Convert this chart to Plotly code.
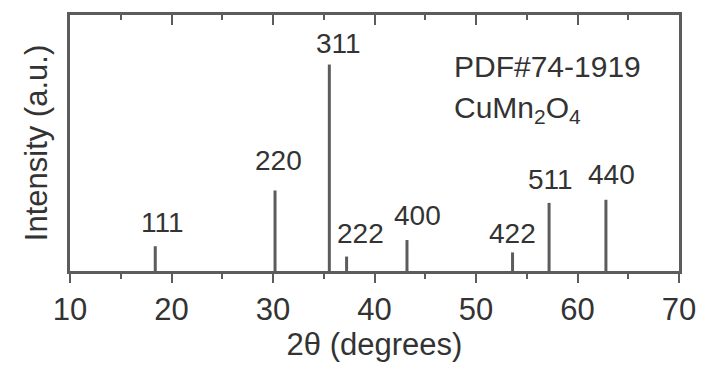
import plotly.graph_objects as go

# Reference pattern PDF#74-1919 (CuMn2O4)
hkl = ["111", "220", "311", "222", "400", "422", "511", "440"]
two_theta = [18.4, 30.2, 35.55, 37.25, 43.2, 53.6, 57.2, 62.8]
intensity = [12, 39, 100, 7, 15, 9, 33, 34.5]

# label offsets (pixels) relative to top of each stick
label_dx = [7, 3, 9, 14, 11, 0, 1, 6]
label_dy = [24, 30, 21, 23, 25, 19, 23, 25]

xticks = [10, 20, 30, 40, 50, 60, 70]

line_col = "#5c5c5c"
text_col = "#333333"
font_family = "Liberation Sans, Arial, sans-serif"

xs, ys = [], []
for t, h in zip(two_theta, intensity):
    xs += [t, t, None]
    ys += [0, h, None]

fig = go.Figure()
fig.add_trace(go.Scatter(x=xs, y=ys, mode="lines", line=dict(color=line_col, width=3)))
# trace on the top axis so that it renders
fig.add_trace(go.Scatter(x=[10, 70], y=[0, 0], xaxis="x2", yaxis="y", mode="markers",
                         marker=dict(size=1, opacity=0)))

for lab, t, h, dx, dy in zip(hkl, two_theta, intensity, label_dx, label_dy):
    fig.add_annotation(x=t, y=h, text=lab, showarrow=False,
                       xshift=dx, yshift=dy, xanchor="center", yanchor="middle",
                       font=dict(size=28, color=text_col, family=font_family))

fig.add_annotation(x=0.627, y=0.80, xref="paper", yref="paper", text="PDF#74-1919",
                   showarrow=False, xanchor="left", yanchor="middle",
                   font=dict(size=30, color=text_col, family=font_family))
fig.add_annotation(x=0.627, y=0.63, xref="paper", yref="paper",
                   text="CuMn<sub>2</sub>O<sub>4</sub>",
                   showarrow=False, xanchor="left", yanchor="middle",
                   font=dict(size=30, color=text_col, family=font_family))

fig.update_layout(
    width=712, height=367, showlegend=False,
    margin=dict(l=70, r=33, t=15, b=96),
    plot_bgcolor="white",
    xaxis=dict(range=[10, 70], tickvals=xticks, ticks="outside", ticklen=9,
               tickwidth=2, tickcolor=line_col, showline=True, linecolor=line_col,
               linewidth=3,
               minor=dict(dtick=5, tick0=0, ticks="outside", ticklen=5),
               tickfont=dict(size=31, color=text_col, family=font_family),
               title=dict(text="2θ (degrees)",
                          font=dict(size=31, color=text_col, family=font_family),
                          standoff=4)),
    xaxis2=dict(range=[10, 70], overlaying="x", anchor="y", side="top",
                tickvals=xticks, ticks="inside", ticklen=10, tickwidth=2,
                tickcolor=line_col, showticklabels=False, showline=True,
                linecolor=line_col, linewidth=3,
                minor=dict(dtick=5, tick0=0, ticks="inside", ticklen=5,
                           tickcolor=line_col)),
    yaxis=dict(range=[0, 124], tickvals=[], showline=True, mirror=True,
               linecolor=line_col, linewidth=3,
               title=dict(text="Intensity (a.u.)",
                          font=dict(size=31, color=text_col, family=font_family),
                          standoff=8)),
)

fig.write_html("out.html")
